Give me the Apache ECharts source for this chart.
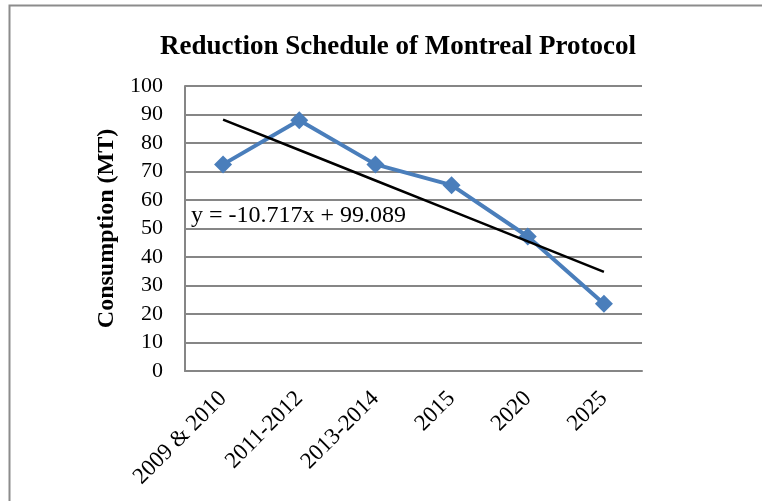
<!DOCTYPE html>
<html>
<head>
<meta charset="utf-8">
<script src="https://cdn.jsdelivr.net/npm/echarts@6/dist/echarts.min.js"></script>
<style>
  html, body { margin: 0; padding: 0; background: #fff; }
  #chart { width: 762px; height: 501px; }
</style>
</head>
<body>
<div id="chart"></div>
<script>
const categories = ['2009 & 2010', '2011-2012', '2013-2014', '2015', '2020', '2025'];
const consumption = [72.5, 88, 72.5, 65.2, 47.2, 23.6];
const yTicks = [0, 10, 20, 30, 40, 50, 60, 70, 80, 90, 100];
const trendLabel = 'y = -10.717x + 99.089';

// linear trendline (least squares, x = 1..n) like Excel does
function trendline(values) {
  const n = values.length;
  let sx = 0, sy = 0, sxy = 0, sxx = 0;
  values.forEach((y, i) => {
    const x = i + 1;
    sx += x; sy += y; sxy += x * y; sxx += x * x;
  });
  const slope = (n * sxy - sx * sy) / (n * sxx - sx * sx);
  const icpt = (sy - slope * sx) / n;
  return values.map((_, i) => +(slope * (i + 1) + icpt).toFixed(3));
}

const font = '"Liberation Serif", "Times New Roman", serif';
const gridColor = '#868686';
const chart = echarts.init(document.getElementById('chart'));

chart.setOption({
  animation: false,
  title: {
    text: 'Reduction Schedule of Montreal Protocol',
    left: 393,
    top: 29,
    textAlign: 'center',
    textStyle: { fontFamily: font, fontSize: 27, fontWeight: 'bold', color: '#000' }
  },
  graphic: [
    {
      type: 'rect',
      shape: { x: 9.5, y: 5.5, width: 800, height: 600 },
      style: { fill: 'none', stroke: '#8c8c8c', lineWidth: 2 },
      silent: true
    },
    {
      type: 'text',
      left: 191,
      top: 204,
      style: { text: trendLabel, fontFamily: font, fontSize: 24, fill: '#000' }
    }
  ],
  grid: { left: 185, top: 86, right: 120, bottom: 130 },
  xAxis: {
    type: 'category',
    data: categories,
    boundaryGap: true,
    axisLine: { lineStyle: { color: gridColor, width: 2 } },
    axisTick: { show: false },
    axisLabel: {
      rotate: 45,
      margin: 24,
      interval: 0,
      fontFamily: font,
      fontSize: 23,
      color: '#000'
    }
  },
  yAxis: {
    type: 'value',
    min: yTicks[0],
    max: yTicks[yTicks.length - 1],
    interval: 10,
    name: 'Consumption (MT)',
    nameLocation: 'middle',
    nameGap: 66,
    nameTextStyle: { fontFamily: font, fontSize: 24, fontWeight: 'bold', color: '#000' },
    axisLine: { show: true, lineStyle: { color: gridColor, width: 2 } },
    axisTick: { show: false },
    axisLabel: { fontFamily: font, fontSize: 22, color: '#000', margin: 22 },
    splitLine: { lineStyle: { color: gridColor, width: 2 } }
  },
  series: [
    {
      name: 'Consumption',
      type: 'line',
      data: consumption,
      symbol: 'diamond',
      symbolSize: 18,
      lineStyle: { color: '#4A7EBB', width: 4 },
      itemStyle: { color: '#4A7EBB' },
      z: 3
    },
    {
      name: 'Trend',
      type: 'line',
      data: trendline(consumption),
      symbol: 'none',
      lineStyle: { color: '#000', width: 2.5 },
      z: 4
    }
  ]
});
</script>
</body>
</html>
